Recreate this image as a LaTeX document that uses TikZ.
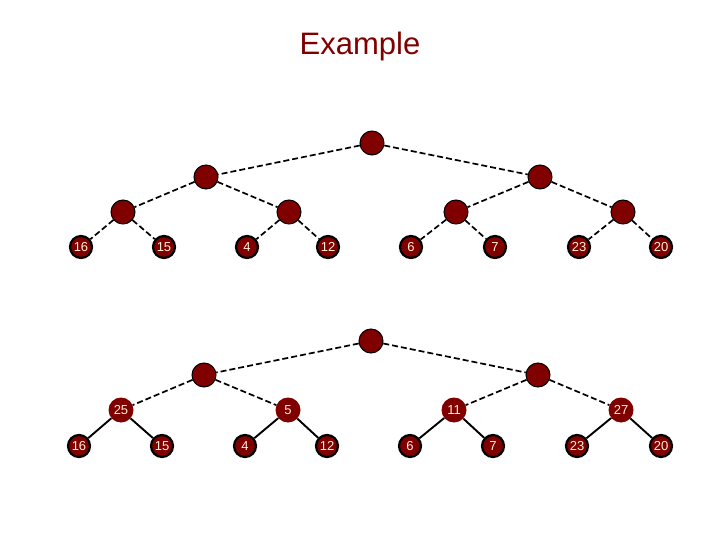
\documentclass[tikz,border=0pt]{standalone}
\usepackage{fontspec}
\setmainfont{Liberation Sans}
\usetikzlibrary{positioning}
\definecolor{maroon}{RGB}{128,0,0}
\definecolor{cream}{RGB}{255,240,215}

\begin{document}
\begin{tikzpicture}[x=1pt, y=-1pt,
    inner/.style={circle, fill=maroon, draw=black, line width=1pt, minimum size=24pt, inner sep=0pt},
    keynode/.style={circle, fill=maroon, minimum size=25pt, inner sep=0pt, text=cream, font=\fontsize{13}{13}\selectfont},
    leaf/.style={keynode, draw=black, line width=2.2pt, minimum size=22pt},
    link/.style={line width=1.7pt, dash pattern=on 6pt off 3pt},
    solidlink/.style={line width=1.9pt}]
  \useasboundingbox (0,0) rectangle (720,540);
  \node[text=maroon, font=\fontsize{31}{31}\selectfont] (title) at (360,46) {Example};

  % first tree: only the keys at the bottom
  \node[inner] (ra) at (372,143) {};
  \node[inner] (la1) at (206,177) {};
  \node[inner] (la2) at (540,177) {};
  \foreach \x [count=\i] in {123,289,456,623}
    \node[inner] (ma\i) at (\x,212) {};
  \foreach \v/\x [count=\i] in {16/81,15/164,4/247,12/328,6/411,7/495,23/579,20/661}
    \node[leaf] (pa\i) at (\x,247) {\v};
  \draw[link] (ra) -- (la1);
  \draw[link] (ra) -- (la2);
  \foreach \i in {1,2} {
    \pgfmathtruncatemacro\j{2*\i-1}
    \pgfmathtruncatemacro\k{2*\i}
    \draw[link] (la\i) -- (ma\j);
    \draw[link] (la\i) -- (ma\k);
  }
  \foreach \i in {1,...,4} {
    \pgfmathtruncatemacro\j{2*\i-1}
    \pgfmathtruncatemacro\k{2*\i}
    \draw[link] (ma\i) -- (pa\j);
    \draw[link] (ma\i) -- (pa\k);
  }

  % second tree: maxima of the pairs filled in
  \node[inner] (rb) at (371,341) {};
  \node[inner] (lb1) at (204,375) {};
  \node[inner] (lb2) at (538,375) {};
  \foreach \v/\x [count=\i] in {25/121,5/288,11/454,27/621}
    \node[keynode] (mb\i) at (\x,410) {\v};
  \foreach \v/\x [count=\i] in {16/79,15/162,4/245,12/327,6/410,7/493,23/577,20/661}
    \node[leaf] (pb\i) at (\x,446) {\v};
  \draw[link] (rb) -- (lb1);
  \draw[link] (rb) -- (lb2);
  \foreach \i in {1,2} {
    \pgfmathtruncatemacro\j{2*\i-1}
    \pgfmathtruncatemacro\k{2*\i}
    \draw[link] (lb\i) -- (mb\j);
    \draw[link] (lb\i) -- (mb\k);
  }
  \foreach \i in {1,...,4} {
    \pgfmathtruncatemacro\j{2*\i-1}
    \pgfmathtruncatemacro\k{2*\i}
    \draw[solidlink] (mb\i) -- (pb\j);
    \draw[solidlink] (mb\i) -- (pb\k);
  }
\end{tikzpicture}
\end{document}
